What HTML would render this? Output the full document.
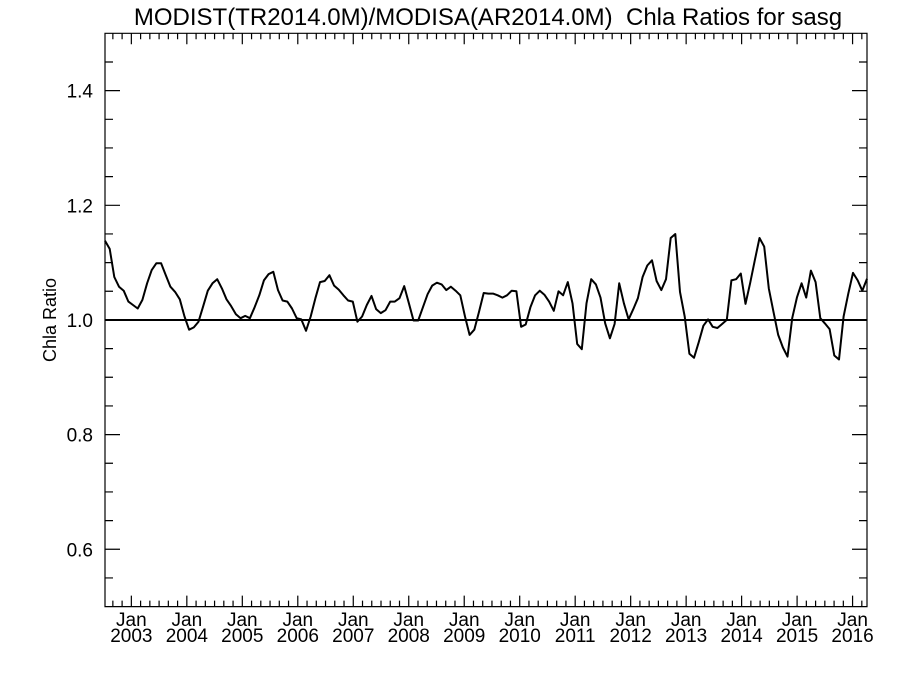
<!DOCTYPE html>
<html><head><meta charset="utf-8"><style>
body{margin:0;background:#fff;}
svg text{font-family:"Liberation Sans",sans-serif;fill:#000;}
</style></head><body>
<svg id="chart" width="900" height="675" xmlns="http://www.w3.org/2000/svg">
<rect width="900" height="675" fill="#fff"/>
<text x="488" y="25" font-size="24" text-anchor="middle" xml:space="preserve">MODIST(TR2014.0M)/MODISA(AR2014.0M)  Chla Ratios for sasg</text>
<text transform="translate(56,320) rotate(-90)" font-size="18" text-anchor="middle">Chla Ratio</text>
<g id="ticks"></g>
<g id="series"></g>
</svg>
<script>
const yTicks=[0.6,0.8,1.0,1.2,1.4];
const yearLabels=[2003,2004,2005,2006,2007,2008,2009,2010,2011,2012,2013,2014,2015,2016];
const startDate=2002.525;
const endDate=2016.26;
const ratios=[1.138,1.124,1.075,1.058,1.051,1.032,1.026,1.020,1.035,1.064,1.087,1.099,1.099,1.078,1.058,1.049,1.036,1.006,0.983,0.987,0.997,1.024,1.051,1.064,1.071,1.055,1.036,1.024,1.010,1.003,1.007,1.003,1.022,1.043,1.069,1.080,1.084,1.052,1.034,1.032,1.020,1.003,1.001,0.981,1.006,1.038,1.066,1.068,1.078,1.060,1.053,1.043,1.034,1.032,0.997,1.006,1.026,1.042,1.019,1.012,1.017,1.032,1.032,1.038,1.059,1.029,0.999,0.999,1.022,1.045,1.060,1.065,1.062,1.052,1.058,1.051,1.043,1.006,0.974,0.983,1.014,1.047,1.046,1.046,
1.043,1.039,1.043,1.051,1.050,0.988,0.992,1.022,1.043,1.051,1.044,1.032,1.016,1.050,1.043,1.066,1.029,0.958,0.949,1.029,1.071,1.062,1.039,0.994,0.968,0.993,1.064,1.029,1.001,1.019,1.038,1.075,1.095,1.104,1.068,1.052,1.071,1.143,1.150,1.049,1.006,0.941,0.934,0.961,0.990,1.001,0.988,0.986,0.993,1.000,1.069,1.071,1.081,1.028,1.064,1.104,1.143,1.128,1.055,1.014,0.974,0.952,0.936,1.003,1.039,1.064,1.039,1.086,1.066,1.003,0.994,0.984,0.938,0.931,1.006,1.046,1.082,1.069,1.051,1.072];
const L=105,R=867,T=33.3,B=606.6,x0=2002.525,x1=2016.26,y0=0.5,y1=1.5;
const X=d=>L+(d-x0)/(x1-x0)*(R-L);
const Y=v=>B-(v-y0)/(y1-y0)*(B-T);
const NS="http://www.w3.org/2000/svg";
const g=document.getElementById('ticks'),s=document.getElementById('series');
function mk(tag,attrs,parent){const e=document.createElementNS(NS,tag);for(const k in attrs)e.setAttribute(k,attrs[k]);parent.appendChild(e);return e;}
let p=`M${L},${T}H${R}V${B}H${L}Z`;
for(let v=0.55;v<1.5;v+=0.05){const y=Y(v);const major=Math.abs(v*5-Math.round(v*5))<0.01;const len=major?15:8;p+=`M${L},${y}h${len}M${R},${y}h${-len}`;}
for(let m=0;m<12*15;m+=2){const d=2003-1+m/12;if(d<x0||d>x1)continue;const x=X(d);const len=(m%12===0)?11:6;p+=`M${x},${B}v${-len}M${x},${T}v${len}`;}
const frame=mk('path',{d:p,stroke:'#000','stroke-width':1.2,fill:'none'},g);


yTicks.forEach(v=>{const t=mk('text',{x:93,y:Y(v)+7,'font-size':19,'text-anchor':'end'},g);t.textContent=v.toFixed(1);

});
yearLabels.forEach(yr=>{const x=X(yr);const t1=mk('text',{x:x,y:626,'font-size':19,'text-anchor':'middle'},g);t1.textContent='Jan';


const t2=mk('text',{x:x,y:642,'font-size':19,'text-anchor':'middle'},g);t2.textContent=String(yr);

});
const ref=mk('line',{x1:L,x2:R,y1:Y(1.0),y2:Y(1.0),stroke:'#000','stroke-width':2},s);


const step=(endDate-startDate)/(ratios.length-1);
const pts=ratios.map((v,i)=>`${X(startDate+i*step).toFixed(1)},${Y(v).toFixed(1)}`).join(' ');
const line=mk('polyline',{points:pts,fill:'none',stroke:'#000','stroke-width':2,'stroke-linejoin':'round'},s);


</script>
</body></html>
